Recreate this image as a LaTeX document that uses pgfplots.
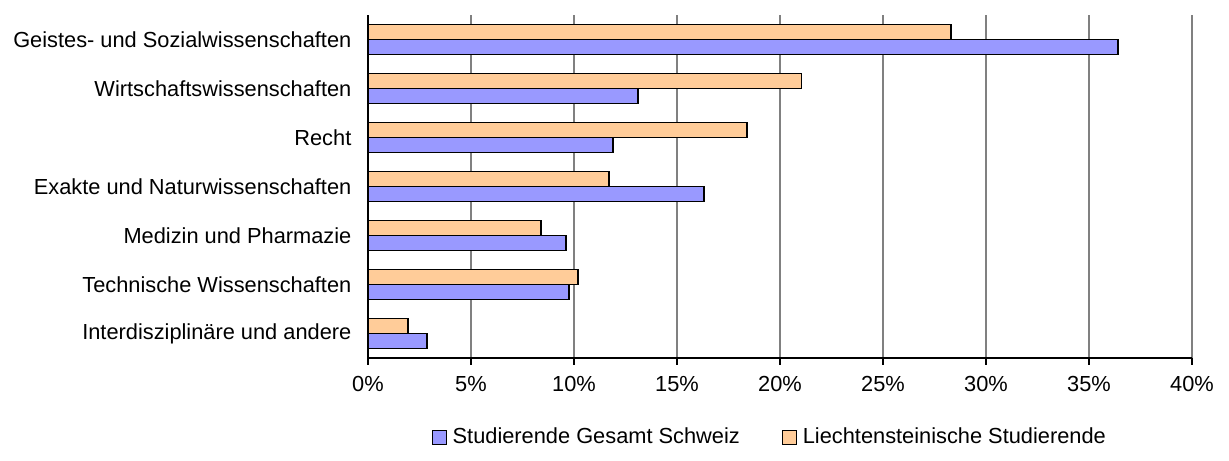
\documentclass[border=0pt]{standalone}
\usepackage{pgfplots}
\pgfplotsset{compat=1.18}
\usepackage{fontspec}
\setmainfont{Liberation Sans}
\definecolor{cblue}{HTML}{9999FF}
\definecolor{corange}{HTML}{FFCC99}
\definecolor{cgrid}{HTML}{808080}
\newcommand{\chartfont}{\fontsize{10.9pt}{13pt}\selectfont}
\begin{document}
\chartfont
\begin{tikzpicture}
\path[use as bounding box] (0,0) rectangle (614.5pt,230pt);
\begin{axis}[
  at={(184pt,51pt)}, anchor=south west,
  scale only axis, width=412pt, height=171.5pt,
  xmin=0, xmax=40, ymin=-0.5, ymax=6.5,
  axis x line=bottom, axis y line=left,
  axis line style={-, black, line width=0.6pt},
  xtick={0,5,...,40},
  xticklabels={0\%,5\%,10\%,15\%,20\%,25\%,30\%,35\%,40\%},
  xmajorgrids, major grid style={cgrid, line width=0.7pt},
  tick align=outside,
  major tick length=3.5pt,
  x tick style={black, line width=0.6pt},
  ytick={0,...,6},
  yticklabels={Interdisziplinäre und andere, Technische Wissenschaften, Medizin und Pharmazie, Exakte und Naturwissenschaften, Recht, Wirtschaftswissenschaften, Geistes- und Sozialwissenschaften},
  y tick style={draw=none},
  minor ytick={-0.5,0.5,...,6.5},
  minor y tick style={black, line width=0.6pt},
  minor tick length=3.5pt,
  xticklabel style={font=\chartfont, yshift=-2pt},
  yticklabel style={font=\chartfont, xshift=-1pt},
  /pgf/number format/assume math mode=true,
  legend style={at={(0.49,-0.232)}, anchor=center, draw=none, fill=none,
    font=\chartfont, legend columns=2,
    /tikz/every even column/.append style={column sep=18pt},
    nodes={inner xsep=3pt},
    legend cell align=left},
  clip=false,
]
\addplot[xbar, fill=cblue, draw=black, line width=0.8pt, bar width=0.31, bar shift=-0.155,
  legend image code/.code={\draw[fill=cblue, draw=black, line width=0.5pt] (0pt,-3.3pt) rectangle (7pt,3.3pt);}]
  coordinates {(36.4,6) (13.1,5) (11.9,4) (16.3,3) (9.6,2) (9.75,1) (2.85,0)};
\addlegendentry{Studierende Gesamt Schweiz}
\addplot[xbar, fill=corange, draw=black, line width=0.8pt, bar width=0.31, bar shift=0.155,
  legend image code/.code={\draw[fill=corange, draw=black, line width=0.5pt] (0pt,-3.3pt) rectangle (7pt,3.3pt);}]
  coordinates {(28.3,6) (21.05,5) (18.4,4) (11.7,3) (8.4,2) (10.2,1) (1.95,0)};
\addlegendentry{Liechtensteinische Studierende}
\end{axis}
\end{tikzpicture}
\end{document}
